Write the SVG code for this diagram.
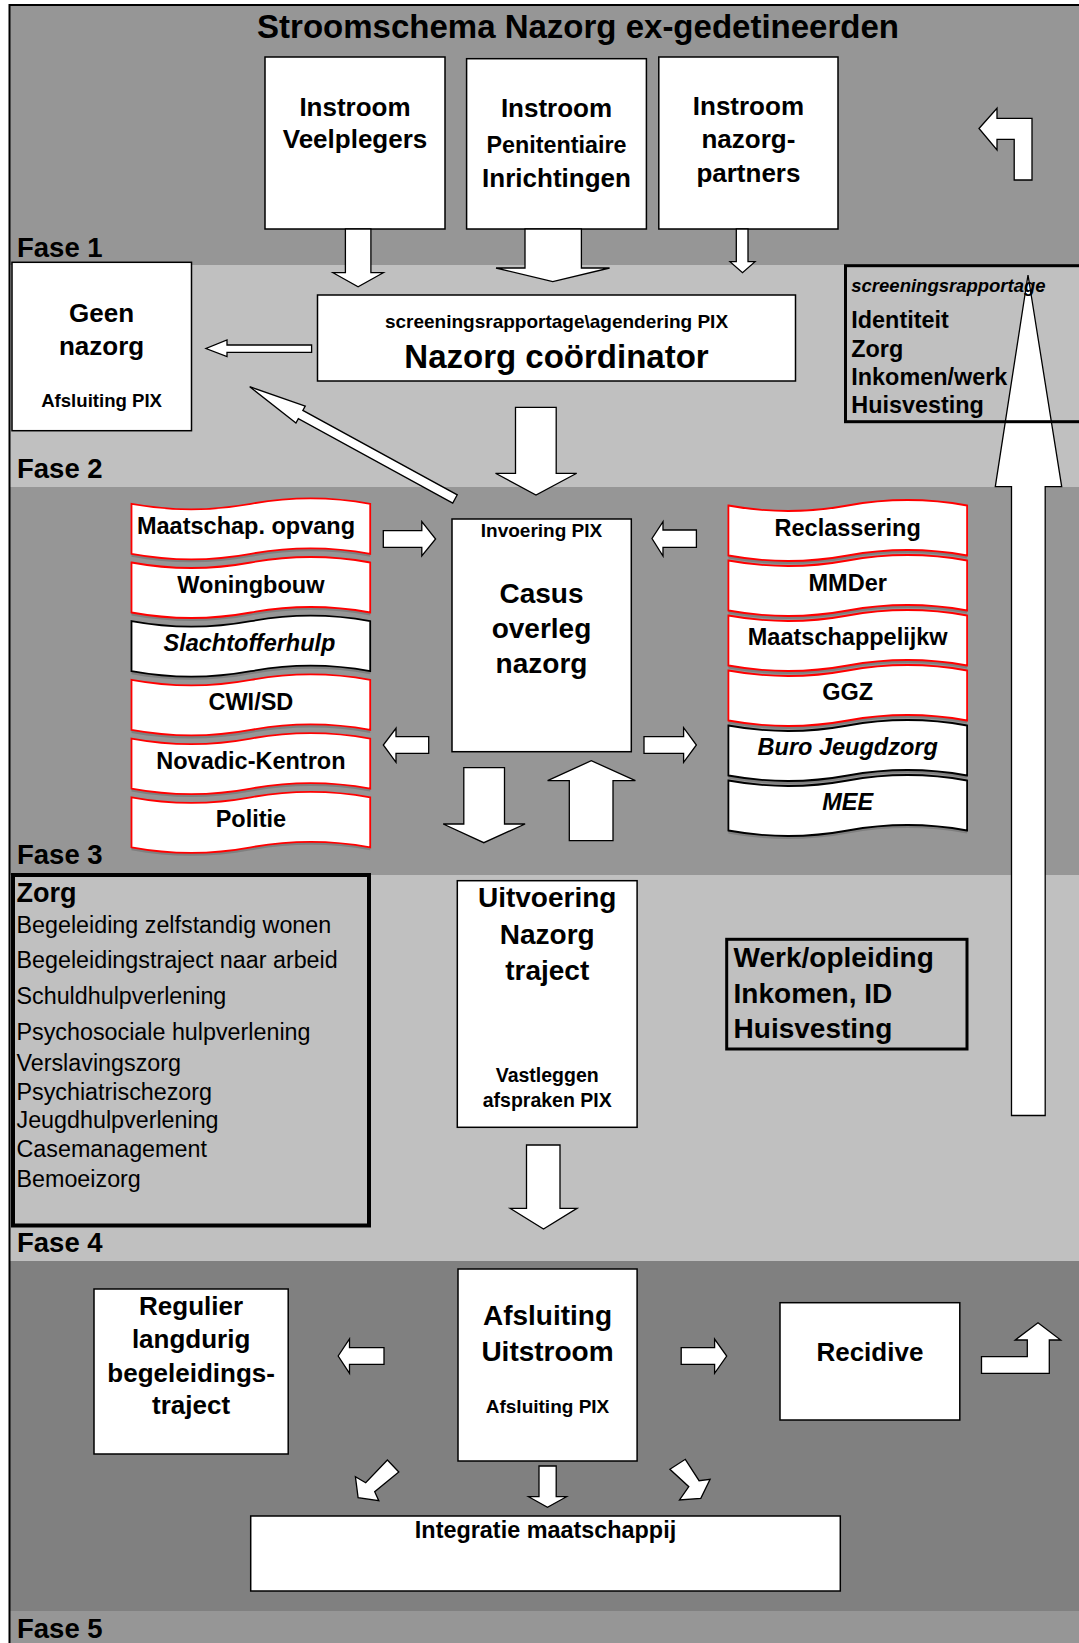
<svg xmlns="http://www.w3.org/2000/svg" width="1079" height="1643" viewBox="0 0 1079 1643">
<defs>
<style>
text{font-family:"Liberation Sans",Arial,Helvetica,sans-serif;fill:#000}
.b{font-weight:bold}
.i{font-style:italic}
.m{text-anchor:middle}
.box{fill:#fff;stroke:#000;stroke-width:1.5}
.arr{fill:#fff;stroke:#000;stroke-width:1.3;stroke-linejoin:miter}
.tr{fill:#fff;stroke:#f00;stroke-width:1.8}
.tk{fill:#fff;stroke:#000;stroke-width:1.8}
.sh{fill:#7f7f7f}
.fase{font-weight:bold;font-size:27.5px}
.f26{font-size:26px}
.f28{font-size:28px}
.f19{font-size:19px}
.f235{font-size:23.5px}
.lst{font-size:23.3px}
</style>
<path id="tape" d="M0,5.5 C39.78,12.83 79.57,12.83 119.35,5.5 C159.13,-1.83 198.92,-1.83 238.7,5.5 L238.7,55.5 C198.92,48.17 159.13,48.17 119.35,55.5 C79.57,62.83 39.78,62.83 0,55.5 Z"/>
</defs>

<g id="background">
<rect x="0" y="0" width="1079" height="1643" fill="#fff"/>
<rect x="9.5" y="5" width="1070" height="260" fill="#969696"/>
<rect x="9.5" y="265" width="1070" height="222" fill="#c0c0c0"/>
<rect x="9.5" y="487" width="1070" height="388" fill="#969696"/>
<rect x="9.5" y="875" width="1070" height="386" fill="#c0c0c0"/>
<rect x="9.5" y="1261" width="1070" height="350" fill="#808080"/>
<rect x="9.5" y="1611" width="1070" height="32" fill="#969696"/>
<path d="M9.5,1643 V5 H1079" fill="none" stroke="#000" stroke-width="2"/>
</g>

<g id="labels">
<text x="578" y="37.5" class="b m" font-size="33">Stroomschema Nazorg ex-gedetineerden</text>
<text x="17" y="256.7" class="fase">Fase 1</text>
<text x="17" y="478" class="fase">Fase 2</text>
<text x="17" y="864.3" class="fase">Fase 3</text>
<text x="17" y="1251.7" class="fase">Fase 4</text>
<text x="17" y="1638.3" class="fase">Fase 5</text>
</g>

<g id="instroom-veelplegers">
<rect x="265" y="57" width="180" height="172" class="box"/>
<text x="355" y="116" class="b m f26">Instroom</text>
<text x="355" y="148.3" class="b m f26">Veelplegers</text>
</g>
<g id="instroom-pi">
<rect x="466.6" y="58.7" width="179.8" height="170.3" class="box"/>
<text x="556.5" y="117.3" class="b m f26">Instroom</text>
<text x="556.5" y="152.7" class="b m" font-size="23.3">Penitentiaire</text>
<text x="556.5" y="187.3" class="b m f26">Inrichtingen</text>
</g>
<g id="instroom-partners">
<rect x="658.8" y="57" width="179.2" height="172" class="box"/>
<text x="748.4" y="115" class="b m f26">Instroom</text>
<text x="748.4" y="148.3" class="b m f26">nazorg-</text>
<text x="748.4" y="181.7" class="b m f26">partners</text>
</g>

<g id="geen-nazorg">
<rect x="12" y="262.3" width="179.5" height="168.4" class="box"/>
<text x="101.6" y="321.7" class="b m f26">Geen</text>
<text x="101.6" y="355" class="b m f26">nazorg</text>
<text x="101.6" y="407.3" class="b m" font-size="18.6">Afsluiting PIX</text>
</g>

<g id="nazorg-coordinator">
<rect x="317.5" y="295" width="478" height="86" class="box"/>
<text x="556.5" y="328" class="b m f19">screeningsrapportage\agendering PIX</text>
<text x="556.5" y="368.3" class="b m" font-size="33">Nazorg coördinator</text>
</g>

<g id="partners-left">
<g id="maatschap-opvang"><use href="#tape" x="131.5" y="501.3" class="sh"/><use href="#tape" x="131.5" y="498.3" class="tr"/><text x="246" y="533.8" class="b m f235">Maatschap. opvang</text></g>
<g id="woningbouw"><use href="#tape" x="131.5" y="560" class="sh"/><use href="#tape" x="131.5" y="557" class="tr"/><text x="250.9" y="592.5" class="b m f235">Woningbouw</text></g>
<g id="slachtofferhulp"><use href="#tape" x="131.5" y="618.7" class="sh"/><use href="#tape" x="131.5" y="615.7" class="tk"/><text x="249.5" y="651.2" class="b i m f235">Slachtofferhulp</text></g>
<g id="cwi-sd"><use href="#tape" x="131.5" y="677.4" class="sh"/><use href="#tape" x="131.5" y="674.4" class="tr"/><text x="250.9" y="709.9" class="b m f235">CWI/SD</text></g>
<g id="novadic-kentron"><use href="#tape" x="131.5" y="736.1" class="sh"/><use href="#tape" x="131.5" y="733.1" class="tr"/><text x="250.9" y="768.6" class="b m f235">Novadic-Kentron</text></g>
<g id="politie"><use href="#tape" x="131.5" y="794.8" class="sh"/><use href="#tape" x="131.5" y="791.8" class="tr"/><text x="250.9" y="827.3" class="b m f235">Politie</text></g>
</g>

<g id="partners-right">
<g id="reclassering"><use href="#tape" x="728.4" y="503" class="sh"/><use href="#tape" x="728.4" y="500" class="tr"/><text x="847.7" y="536" class="b m f235">Reclassering</text></g>
<g id="mmder"><use href="#tape" x="728.4" y="558" class="sh"/><use href="#tape" x="728.4" y="555" class="tr"/><text x="847.7" y="590.5" class="b m f235">MMDer</text></g>
<g id="maatschappelijkw"><use href="#tape" x="728.4" y="613" class="sh"/><use href="#tape" x="728.4" y="610" class="tr"/><text x="847.7" y="644.5" class="b m f235">Maatschappelijkw</text></g>
<g id="ggz"><use href="#tape" x="728.4" y="668" class="sh"/><use href="#tape" x="728.4" y="665" class="tr"/><text x="847.7" y="699.5" class="b m f235">GGZ</text></g>
<g id="buro-jeugdzorg"><use href="#tape" x="728.4" y="723" class="sh"/><use href="#tape" x="728.4" y="720" class="tk"/><text x="847.7" y="754.5" class="b i m f235">Buro Jeugdzorg</text></g>
<g id="mee"><use href="#tape" x="728.4" y="778" class="sh"/><use href="#tape" x="728.4" y="775" class="tk"/><text x="847.7" y="809.5" class="b i m f235">MEE</text></g>
</g>

<g id="casus-overleg">
<rect x="452" y="519" width="179.3" height="232.7" class="box"/>
<text x="541.5" y="536.7" class="b m f19">Invoering PIX</text>
<text x="541.5" y="603.3" class="b m f28">Casus</text>
<text x="541.5" y="638.3" class="b m f28">overleg</text>
<text x="541.5" y="673.3" class="b m f28">nazorg</text>
</g>

<g id="zorg">
<rect x="13" y="875" width="356" height="350.5" fill="none" stroke="#000" stroke-width="4"/>
<text x="16.5" y="901.7" class="b" font-size="27">Zorg</text>
<text x="16.5" y="933.3" class="lst">Begeleiding zelfstandig wonen</text>
<text x="16.5" y="968.3" class="lst">Begeleidingstraject naar arbeid</text>
<text x="16.5" y="1004" class="lst">Schuldhulpverlening</text>
<text x="16.5" y="1040" class="lst">Psychosociale hulpverlening</text>
<text x="16.5" y="1070.7" class="lst">Verslavingszorg</text>
<text x="16.5" y="1100" class="lst">Psychiatrischezorg</text>
<text x="16.5" y="1128.3" class="lst">Jeugdhulpverlening</text>
<text x="16.5" y="1157.3" class="lst">Casemanagement</text>
<text x="16.5" y="1186.7" class="lst">Bemoeizorg</text>
</g>

<g id="uitvoering">
<rect x="457.3" y="880.7" width="179.8" height="246.6" class="box"/>
<text x="547.2" y="907.3" class="b m f28">Uitvoering</text>
<text x="547.2" y="944" class="b m f28">Nazorg</text>
<text x="547.2" y="980" class="b m f28">traject</text>
<text x="547.2" y="1081.7" class="b m" font-size="19.5">Vastleggen</text>
<text x="547.2" y="1106.7" class="b m" font-size="19.5">afspraken PIX</text>
</g>

<g id="werk-opleiding">
<rect x="726.7" y="939.3" width="240.3" height="109.7" fill="none" stroke="#000" stroke-width="3"/>
<text x="733.6" y="966.7" class="b f28">Werk/opleiding</text>
<text x="733.6" y="1003.3" class="b f28">Inkomen, ID</text>
<text x="733.6" y="1038.3" class="b f28">Huisvesting</text>
</g>

<g id="regulier">
<rect x="94" y="1289" width="194.2" height="165" class="box"/>
<text x="191.1" y="1315" class="b m f26">Regulier</text>
<text x="191.1" y="1348.3" class="b m f26">langdurig</text>
<text x="191.1" y="1381.7" class="b m f26">begeleidings-</text>
<text x="191.1" y="1414.3" class="b m f26">traject</text>
</g>

<g id="afsluiting">
<rect x="458" y="1269" width="179.1" height="192" class="box"/>
<text x="547.5" y="1325" class="b m f28">Afsluiting</text>
<text x="547.5" y="1361" class="b m f28">Uitstroom</text>
<text x="547.5" y="1412.7" class="b m f19">Afsluiting PIX</text>
</g>

<g id="recidive">
<rect x="780" y="1302.7" width="179.8" height="117.3" class="box"/>
<text x="869.9" y="1361" class="b m f26">Recidive</text>
</g>

<g id="integratie">
<rect x="250.7" y="1516" width="589.6" height="75" class="box"/>
<text x="545.5" y="1538.3" class="b m" font-size="23.4">Integratie maatschappij</text>
</g>

<g id="connectors">
<polygon class="arr" points="345.4,229 370.9,229 370.9,272.7 383.3,272.7 358.1,286.7 333,272.7 345.4,272.7"/>
<polygon class="arr" points="525,229 581.4,229 581.4,268 609.6,268 552.8,281.7 496,268 525,268"/>
<polygon class="arr" points="736.3,229 748,229 748,261.7 755,261.7 742.5,272.7 730,261.7 736.3,261.7"/>
<polygon class="arr" points="311.6,345 227,345 227,340 206,348.5 227,356.5 227,352.3 311.6,352.3"/>
<polygon class="arr" transform="translate(455,499) rotate(208.68)" points="0,-4.7 176,-4.7 176,-9.7 234,0 176,9.7 176,4.7 0,4.7"/>
<polygon class="arr" points="515.5,407.3 556.2,407.3 556.2,473.3 576.7,473.3 536,495 495.5,473.3 515.5,473.3"/>
<polygon class="arr" points="979,128.5 997,108.3 997,118.3 1032,118.3 1032,180 1014.2,180 1014.2,139.3 997,139.3 997,150"/>
<polygon class="arr" points="383.3,530.7 421.8,530.7 421.8,521.7 435.6,539 421.8,556 421.8,547.3 383.3,547.3"/>
<polygon class="arr" points="428.7,736.7 396,736.7 396,728.3 383.3,745 396,762.3 396,753.3 428.7,753.3"/>
<polygon class="arr" points="696.4,530 663,530 663,521.7 652,538.5 663,556 663,547.3 696.4,547.3"/>
<polygon class="arr" points="644,736.7 683.6,736.7 683.6,727.7 696.4,745 683.6,762.3 683.6,753.3 644,753.3"/>
<polygon class="arr" points="463.8,767.7 504.5,767.7 504.5,824 525.1,824 483.8,842.7 443.2,824 463.8,824"/>
<polygon class="arr" points="569.3,840.7 613,840.7 613,780.7 635.4,780.7 591.3,760.7 547.6,780.7 569.3,780.7"/>
<polygon class="arr" points="1028,275 1061.7,486.7 1045.2,486.7 1045.2,1115.5 1011.5,1115.5 1011.5,486.7 995.3,486.7"/>
<polygon class="arr" points="526.5,1145 560,1145 560,1208.3 577,1208.3 543.5,1229 510,1208.3 526.5,1208.3"/>
<polygon class="arr" points="384,1347.7 349.5,1347.7 349.5,1339 338.2,1356 349.5,1373.3 349.5,1364.3 384,1364.3"/>
<polygon class="arr" points="681.2,1347.7 714.6,1347.7 714.6,1339 726.7,1356 714.6,1373.3 714.6,1364.3 681.2,1364.3"/>
<polygon class="arr" points="981.5,1356.7 1027.3,1356.7 1027.3,1340 1015.2,1340 1038,1322.7 1060.7,1340 1049.3,1340 1049.3,1373.3 981.5,1373.3"/>
<polygon class="arr" points="387.4,1460 398.8,1472 374.7,1491.7 378.8,1500.7 358.1,1497.7 355.4,1476.7 365.7,1482.7"/>
<polygon class="arr" points="539,1466 556.2,1466 556.2,1496.7 566.5,1496.7 547.5,1507.3 528.6,1496.7 539,1496.7"/>
<polygon class="arr" points="669.9,1469.3 685.3,1459.3 699.1,1480.7 710.1,1479.3 700.8,1498.3 679.5,1500 688.8,1486.7"/>
</g>

<g id="screening">
<rect x="845.5" y="265.7" width="250" height="156" fill="none" stroke="#000" stroke-width="3"/>
<text x="851.3" y="292" class="b i" font-size="18.5">screeningsrapportage</text>
<text x="851.3" y="328.3" class="b" font-size="23.4">Identiteit</text>
<text x="851.3" y="357.3" class="b" font-size="23.4">Zorg</text>
<text x="851.3" y="385" class="b" font-size="23.4">Inkomen/werk</text>
<text x="851.3" y="413.3" class="b" font-size="23.4">Huisvesting</text>
</g>
</svg>
